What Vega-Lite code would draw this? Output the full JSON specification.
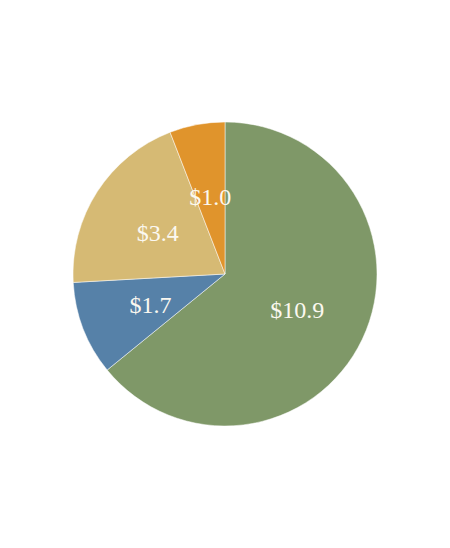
{
  "$schema": "https://vega.github.io/schema/vega-lite/v6.json",
  "autosize": {"type": "fit", "contains": "padding"},
  "width": 450,
  "height": 548,
  "padding": 0,
  "background": "white",
  "view": {"stroke": null},
  "data": {"values": [
    {"category": "A", "value": 10.9, "label": "$10.9", "order": 1},
    {"category": "B", "value": 1.7, "label": "$1.7", "order": 2},
    {"category": "C", "value": 3.4, "label": "$3.4", "order": 3},
    {"category": "D", "value": 1.0, "label": "$1.0", "order": 4}
  ]},
  "encoding": {
    "theta": {"field": "value", "type": "quantitative", "stack": true},
    "order": {"field": "order", "type": "quantitative"},
    "color": {
      "field": "category", "type": "nominal", "legend": null,
      "scale": {"domain": ["A", "B", "C", "D"], "range": ["#7f9868", "#5681a8", "#d6ba74", "#e0942c"]}
    }
  },
  "layer": [
    {"mark": {"type": "arc", "outerRadius": 152, "stroke": "white", "strokeWidth": 0.5}},
    {"mark": {"type": "text", "radius": 80, "dy": 3, "font": "Liberation Serif", "fontSize": 24, "baseline": "middle", "align": "center"},
     "encoding": {"text": {"field": "label"}, "color": {"value": "#fbf8f0"}}}
  ]
}
